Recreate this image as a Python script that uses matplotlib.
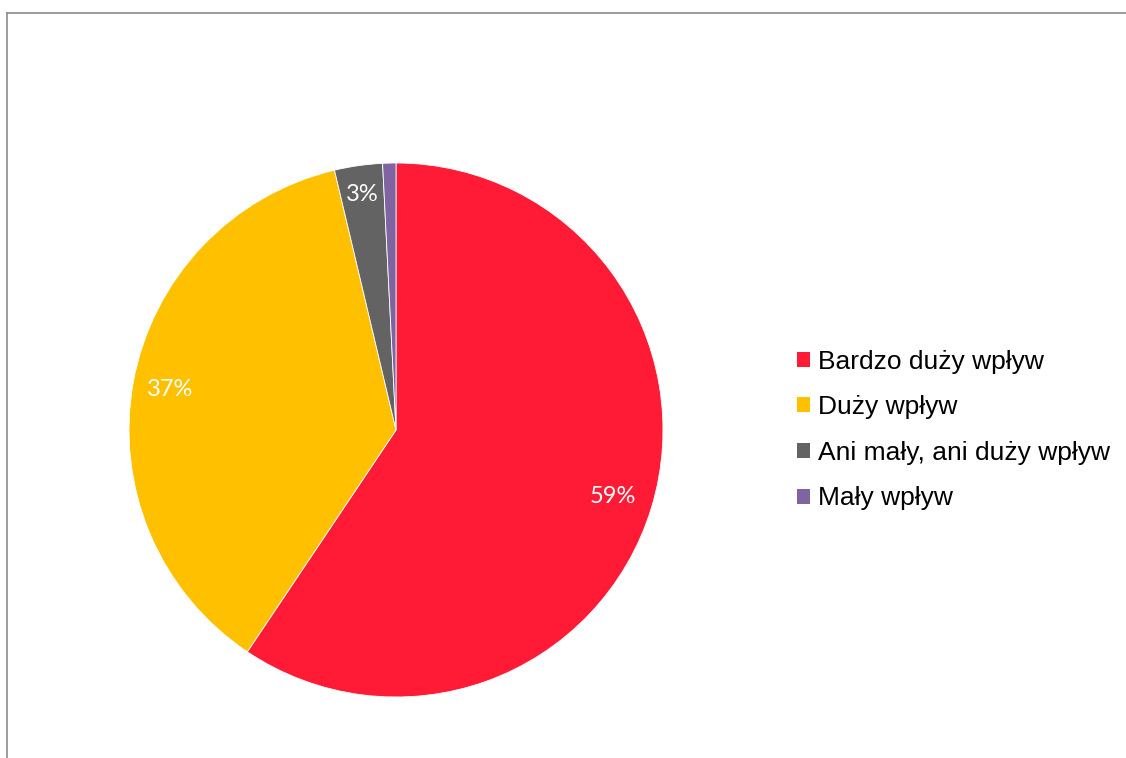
import matplotlib
matplotlib.use("Agg")
import matplotlib.pyplot as plt
from matplotlib.patches import Patch
from matplotlib.lines import Line2D
import numpy as np

categories = ["Bardzo duży wpływ", "Duży wpływ", "Ani mały, ani duży wpływ", "Mały wpływ"]
values = [59.4, 36.9, 2.9, 0.8]
labels_pct = ["59%", "37%", "3%", ""]
colors = ["#FF1A35", "#FFC000", "#636363", "#8064A2"]

W, H = 1126, 758
fig = plt.figure(figsize=(W / 100, H / 100), dpi=100)

cx, cy, r = 396, 430, 267
ax = fig.add_axes([(cx - r) / W, (H - cy - r) / H, 2 * r / W, 2 * r / H])
wedges, _ = ax.pie(values, colors=colors, startangle=90, counterclock=False,
                   radius=1.0, wedgeprops=dict(edgecolor="white", linewidth=0.6))
ax.set_xlim(-1, 1)
ax.set_ylim(-1, 1)
ax.set_aspect("equal")
ax.axis("off")

total = sum(values)
cum = 0
dists = [0.85, 0.86, 0.89, 0.86]
for v, lab, d in zip(values, labels_pct, dists):
    mid = (cum + v / 2) / total
    cum += v
    if not lab:
        continue
    ang = np.deg2rad(90 - mid * 360)
    ax.text(d * np.cos(ang), d * np.sin(ang), lab, ha="center", va="center",
            color="white", fontsize=17, family=["Lato", "DejaVu Sans"])

handles = [Patch(facecolor=c, edgecolor="none") for c in colors]
fig.legend(handles, categories, loc="center left",
           bbox_to_anchor=(797 / W, 1 - 430 / H), frameon=False,
           prop=dict(family=["Liberation Sans", "DejaVu Sans"], size=19),
           handlelength=0.5, handleheight=0.5, handletextpad=0.3,
           labelspacing=0.82, borderpad=0, borderaxespad=0)

# chart frame (top and left edges visible)
fig.add_artist(Line2D([7 / W, 7 / W], [0, 1 - 13 / H], transform=fig.transFigure,
                      color="#8C8C8C", linewidth=1.2))
fig.add_artist(Line2D([7 / W, 1], [1 - 13 / H, 1 - 13 / H], transform=fig.transFigure,
                      color="#8C8C8C", linewidth=1.2))

fig.savefig("out.png", dpi=100, facecolor="white")
